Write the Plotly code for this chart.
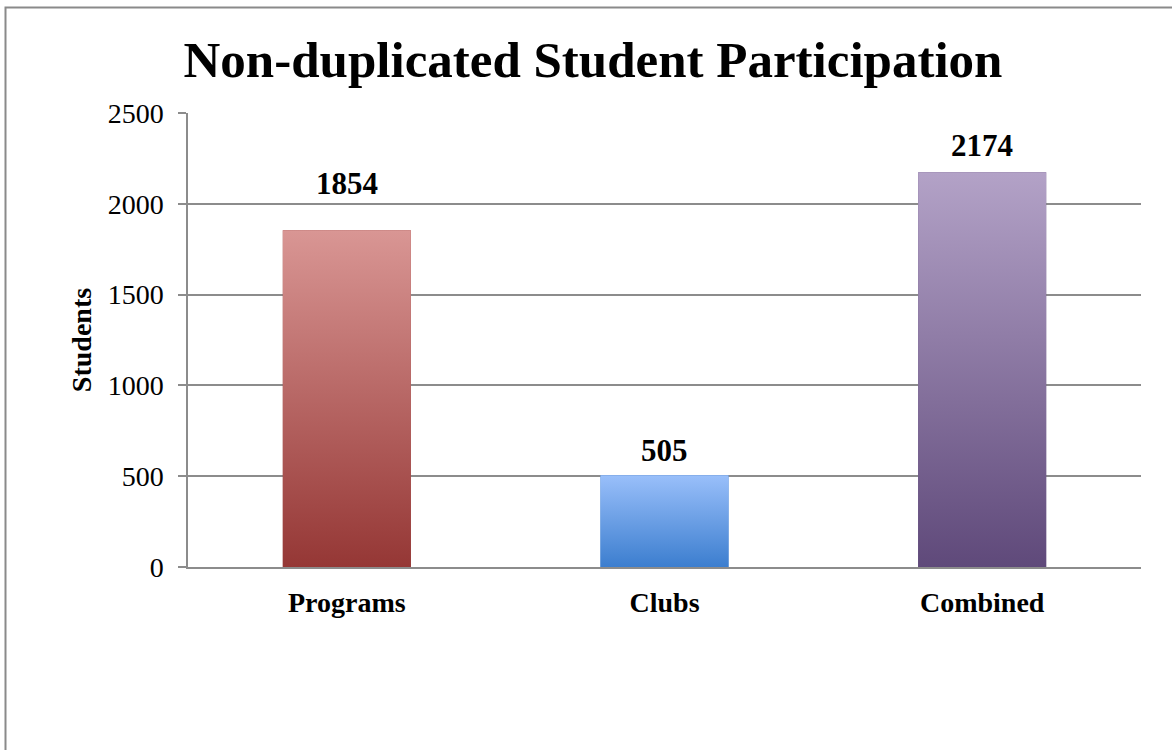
import plotly.graph_objects as go

# ---- data ----
categories = ["Programs", "Clubs", "Combined"]
students = [1854, 505, 2174]
y_ticks = [0, 500, 1000, 1500, 2000, 2500]
title_text = "Non-duplicated Student Participation"
y_title = "Students"

# ---- styles ----
top_colors = ["#D99694", "#99BFFA", "#B3A2C7"]
bottom_colors = ["#953735", "#3C7ECF", "#5F497A"]
label_shift = [47, 25, 27]
BAR_W = 0.403
FONT = "Liberation Serif"
GRID = "#8c8c8c"

W, H = 1172, 750
ML, MR, MT, MB = 188, 31, 113, 183

fig = go.Figure()

fig.add_trace(go.Bar(
    x=categories, y=students, width=BAR_W,
    marker=dict(color=bottom_colors, line=dict(width=0)),
    hoverinfo="x+y", showlegend=False,
))

# vertical gradient overlay for each bar, derived from the data
for i, v in enumerate(students):
    fig.add_trace(go.Scatter(
        x=[i - BAR_W / 2, i + BAR_W / 2, i + BAR_W / 2, i - BAR_W / 2, i - BAR_W / 2],
        y=[0, 0, v, v, 0],
        xaxis="x2", yaxis="y",
        mode="lines", line=dict(width=0), fill="toself",
        fillgradient=dict(type="vertical",
                          colorscale=[[0, bottom_colors[i]], [1, top_colors[i]]]),
        hoverinfo="skip", showlegend=False,
    ))

for c, v, s in zip(categories, students, label_shift):
    fig.add_annotation(x=c, y=v, xref="x", yref="y", text=str(v),
                       showarrow=False, yshift=s, yanchor="middle",
                       font=dict(family=FONT, size=31, color="#000000", weight="bold"))

pw = W - ML - MR
ph = H - MT - MB
def px_x(p):
    return (p - ML) / pw
def px_y(p):
    return (H - MB - p) / ph

# outer frame (top and left edges visible)
fig.add_shape(type="path", xref="paper", yref="paper",
              path=f"M {px_x(5.5)} {px_y(760)} L {px_x(5.5)} {px_y(7.5)} L {px_x(1180)} {px_y(7.5)}",
              line=dict(color="#8a8a8a", width=2))

fig.update_layout(
    width=W, height=H,
    margin=dict(l=ML, r=MR, t=MT, b=MB, autoexpand=False),
    paper_bgcolor="white", plot_bgcolor="white",
    font=dict(family=FONT, color="#000000"),
    title=dict(text=title_text, x=593 / W, xanchor="center", y=1 - 59 / H,
               yanchor="middle", xref="container", yref="container",
               font=dict(family=FONT, size=51, color="#000000", weight="bold")),
    xaxis=dict(type="category", range=[-0.5, 2.5], showgrid=False,
               showline=True, linecolor=GRID, linewidth=2, ticks="",
               tickfont=dict(family=FONT, size=28, color="#000000", weight="bold"),
               ticklabelstandoff=9, zeroline=False),
    xaxis2=dict(overlaying="x", range=[-0.5, 2.5], visible=False),
    yaxis=dict(range=[0, 2500], tickvals=y_ticks, showgrid=True,
               gridcolor=GRID, gridwidth=1.5, showline=True, linecolor=GRID,
               linewidth=1.5, ticks="outside", ticklen=8, tickcolor=GRID,
               tickwidth=1.5, zeroline=False,
               tickfont=dict(family=FONT, size=28, color="#000000"),
               ticklabelstandoff=9,
               title=dict(text=y_title, standoff=8,
                          font=dict(family=FONT, size=28, color="#000000", weight="bold"))),
)

fig.write_html("out.html", config={"displayModeBar": False},
               post_script="document.body.style.margin='0';")
